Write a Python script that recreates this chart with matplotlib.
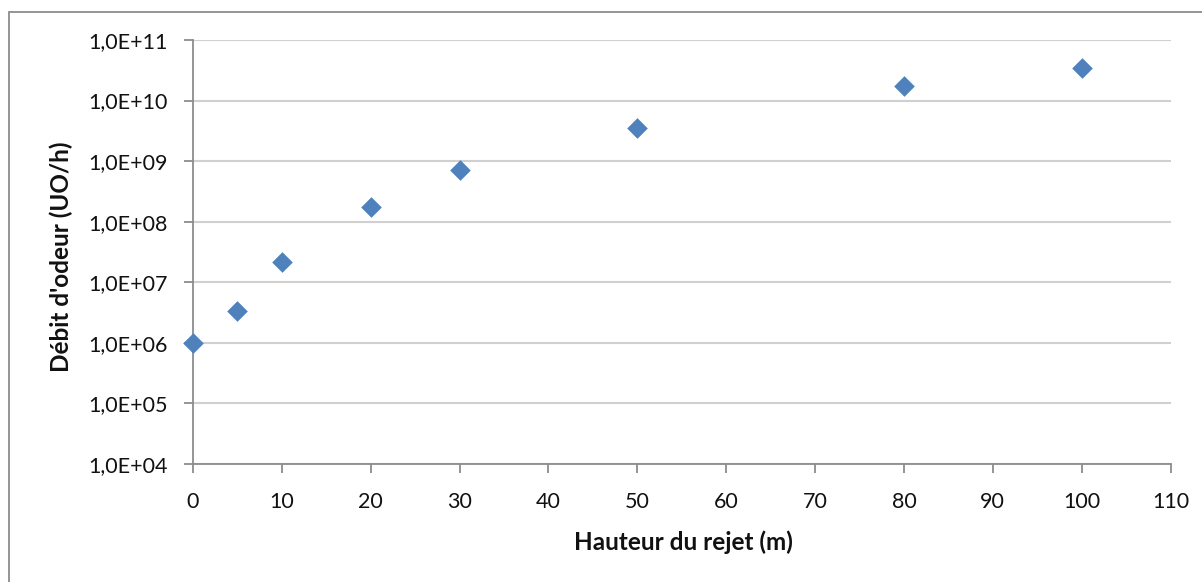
import numpy as np
import matplotlib
matplotlib.use("Agg")
import matplotlib.pyplot as plt
from matplotlib.ticker import FixedLocator, FuncFormatter, NullLocator
from matplotlib.patches import Rectangle

# === Data ===
hauteur = [0, 5, 10, 20, 30, 50, 80, 100]  # m
debit = [1.0e6, 3.4e6, 2.15e7, 1.75e8, 7.1e8, 3.5e9, 1.75e10, 3.4e10]  # UO/h

x_ticks = list(range(0, 111, 10))
y_ticks = [10.0 ** e for e in range(4, 12)]

plt.rcParams['font.family'] = ['Lato', 'DejaVu Sans']

W, H = 1202, 582
fig = plt.figure(figsize=(W / 100, H / 100), dpi=100)
ax = fig.add_axes([193 / W, 1 - 464 / H, (1170.5 - 193) / W, (464 - 40) / H])

# outer chart border (Excel chart area)
fig.patches.append(Rectangle((9 / W, -0.05), 1.1, 1 - 12 / H + 0.05,
                             transform=fig.transFigure, fill=False,
                             edgecolor='#8c8c8c', linewidth=1.3, zorder=0))

ax.scatter(hauteur, debit, marker='D', s=10.5 ** 2, color='#4f81bd',
           linewidths=0, zorder=3, clip_on=False)

ax.set_yscale('log')
ax.set_xlim(0, 110)
ax.set_ylim(1e4, 1e11)
ax.xaxis.set_major_locator(FixedLocator(x_ticks))
ax.yaxis.set_major_locator(FixedLocator(y_ticks))
ax.yaxis.set_minor_locator(NullLocator())
ax.yaxis.set_major_formatter(FuncFormatter(lambda v, p: "1,0E+%02d" % round(np.log10(v))))

ax.grid(axis='y', color='#d0d0d0', linewidth=1.5)
ax.set_axisbelow(True)
for side in ['top', 'right']:
    ax.spines[side].set_visible(False)
for side in ['left', 'bottom']:
    ax.spines[side].set_color('#8c8c8c')
    ax.spines[side].set_linewidth(1.3)

ax.tick_params(axis='both', colors='#8c8c8c', labelcolor='#111111',
               labelsize=15.5, length=6.5, width=1.3)
ax.tick_params(axis='y', pad=12)
ax.tick_params(axis='x', pad=14)

fig.text(683 / W, 1 - 542 / H, "Hauteur du rejet (m)", ha='center', va='center',
         fontsize=17.5, fontweight='bold', color='#111111')
fig.text(61 / W, 1 - 257 / H, "Débit d'odeur (UO/h)", ha='center', va='center',
         rotation=90, fontsize=17.5, fontweight='bold', color='#111111')

fig.savefig("out.png", dpi=100)
